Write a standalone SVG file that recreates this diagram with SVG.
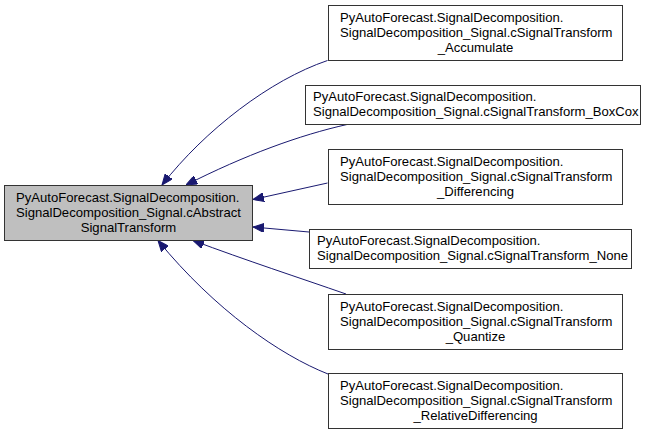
<svg xmlns="http://www.w3.org/2000/svg" width="655" height="435" viewBox="0 0 655 435">
<style>
.box{fill:#ffffff;stroke:#333333;stroke-width:1}
.main{fill:#bfbfbf;stroke:#333333;stroke-width:1}
text{font-family:"Liberation Sans",Arial,sans-serif;font-size:13.1px;fill:#000000}
.c{text-anchor:middle}
.edge{fill:none;stroke:#191970;stroke-width:1;marker-end:url(#ah)}
</style>
<defs>
<marker id="ah" viewBox="0 0 11 9" refX="11" refY="4.5" markerWidth="11" markerHeight="9" markerUnits="userSpaceOnUse" orient="auto">
<path d="M0,0 L11,4.5 L0,9 z" fill="#191970" stroke="#191970" stroke-width="1"/>
</marker>
</defs>
<rect width="655" height="435" fill="#ffffff"/>
<g id="connectors">
<path class="edge" d="M327.5,60.5 C270,80 205,130 162,185"/>
<path class="edge" d="M347,124.5 C300,135 245,155 186,185"/>
<path class="edge" d="M327.5,183 L253,199.5"/>
<path class="edge" d="M309,232 L253,227"/>
<path class="edge" d="M346,294 C300,278 245,260 193,240.5"/>
<path class="edge" d="M328,374 C280,355 215,310 158,240.5"/>
</g>
<g id="node-main">
<rect class="main" x="4.5" y="185.5" width="248" height="55"/>
<text x="16" y="202">PyAutoForecast.SignalDecomposition.</text>
<text x="16" y="217">SignalDecomposition_Signal.cAbstract</text>
<text class="c" x="128.5" y="232">SignalTransform</text>
</g>
<g id="node-accumulate">
<rect class="box" x="328.5" y="5.5" width="294" height="55"/>
<text x="340" y="22">PyAutoForecast.SignalDecomposition.</text>
<text x="340" y="37">SignalDecomposition_Signal.cSignalTransform</text>
<text class="c" x="475.5" y="52">_Accumulate</text>
</g>
<g id="node-boxcox">
<rect class="box" x="305.5" y="85.5" width="335" height="39"/>
<text x="313" y="101">PyAutoForecast.SignalDecomposition.</text>
<text x="313" y="116">SignalDecomposition_Signal.cSignalTransform_BoxCox</text>
</g>
<g id="node-differencing">
<rect class="box" x="328.5" y="149.5" width="294" height="55"/>
<text x="340" y="166">PyAutoForecast.SignalDecomposition.</text>
<text x="340" y="181">SignalDecomposition_Signal.cSignalTransform</text>
<text class="c" x="475.5" y="196">_Differencing</text>
</g>
<g id="node-none">
<rect class="box" x="309.5" y="229.5" width="322" height="39"/>
<text x="317" y="245">PyAutoForecast.SignalDecomposition.</text>
<text x="317" y="260">SignalDecomposition_Signal.cSignalTransform_None</text>
</g>
<g id="node-quantize">
<rect class="box" x="328.5" y="294.5" width="294" height="55"/>
<text x="340" y="311">PyAutoForecast.SignalDecomposition.</text>
<text x="340" y="326">SignalDecomposition_Signal.cSignalTransform</text>
<text class="c" x="475.5" y="341">_Quantize</text>
</g>
<g id="node-reldiff">
<rect class="box" x="328.5" y="373.5" width="294" height="55"/>
<text x="340" y="390">PyAutoForecast.SignalDecomposition.</text>
<text x="340" y="405">SignalDecomposition_Signal.cSignalTransform</text>
<text class="c" x="475.5" y="420">_RelativeDifferencing</text>
</g>
</svg>
